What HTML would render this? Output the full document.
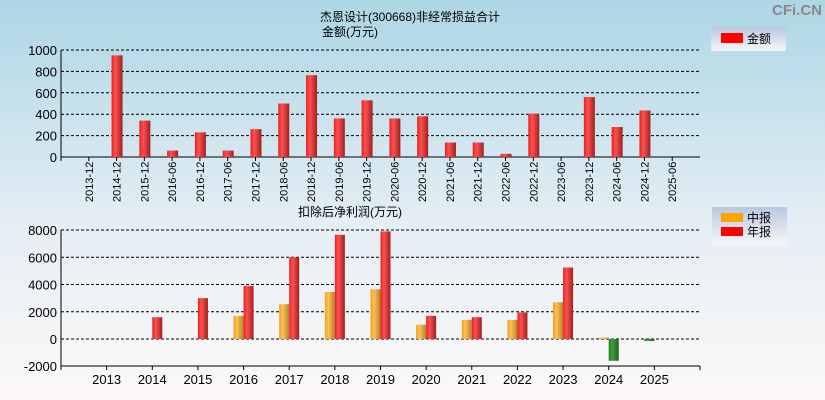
<!DOCTYPE html>
<html><head><meta charset="utf-8"><style>
body{margin:0;width:825px;height:400px;overflow:hidden;font-family:"Liberation Sans","Noto Sans CJK SC",sans-serif}
svg{display:block}
</style></head><body>
<svg id="c" width="825" height="400" xmlns="http://www.w3.org/2000/svg">
<defs>
<linearGradient id="bg" x1="0" y1="0" x2="0" y2="1"><stop offset="0" stop-color="#add6e5"/><stop offset="0.55" stop-color="#e4eef4"/><stop offset="1" stop-color="#fdf8f8"/></linearGradient>
<linearGradient id="lg" x1="0" y1="0" x2="0" y2="1"><stop offset="0" stop-color="#b8c8e0"/><stop offset="1" stop-color="#f6f6fa"/></linearGradient>
<linearGradient id="red" x1="0" x2="1"><stop offset="0" stop-color="#e82020"/><stop offset="0.35" stop-color="#ff5050"/><stop offset="1" stop-color="#a02020"/></linearGradient>
<linearGradient id="org" x1="0" x2="1"><stop offset="0" stop-color="#f0a020"/><stop offset="0.35" stop-color="#ffc050"/><stop offset="1" stop-color="#b08030"/></linearGradient>
<linearGradient id="grn" x1="0" x2="1"><stop offset="0" stop-color="#208020"/><stop offset="0.35" stop-color="#40a040"/><stop offset="1" stop-color="#1a601a"/></linearGradient>
</defs>
<rect width="825" height="400" fill="url(#bg)"/>
<text x="822" y="15" text-anchor="end" font-size="15" font-weight="bold" fill="#888">CFi.CN</text>
<text x="410" y="21" text-anchor="middle" font-size="12">杰恩设计(300668)非经常损益合计</text>
<text x="350" y="36" text-anchor="middle" font-size="12">金额(万元)</text>
<text x="350" y="216" text-anchor="middle" font-size="12">扣除后净利润(万元)</text>
<g><rect x="711" y="27" width="75" height="24" fill="url(#lg)"/><rect x="721" y="33" width="22" height="10" fill="#f00"/><text x="747" y="43" font-size="12">金额</text></g>
<g><rect x="712" y="207" width="75" height="38" fill="url(#lg)"/><rect x="721" y="213" width="22" height="9" fill="#ffa500"/><text x="747" y="222" font-size="12">中报</text><rect x="721" y="227" width="22" height="9" fill="#f00"/><text x="747" y="236" font-size="12">年报</text></g>
<g id="top"></g><g id="bot"></g>
</svg>
<script>
const topCats=["2013-12","2014-12","2015-12","2016-06","2016-12","2017-06","2017-12","2018-06","2018-12","2019-06","2019-12","2020-06","2020-12","2021-06","2021-12","2022-06","2022-12","2023-06","2023-12","2024-06","2024-12","2025-06"];
const topVals=[0,950,340,60,230,60,260,500,765,360,530,360,380,135,135,30,405,0,560,280,435,0];
const topTicks=[0,200,400,600,800,1000];
const years=["2013","2014","2015","2016","2017","2018","2019","2020","2021","2022","2023","2024","2025"];
const halfVals=[null,null,null,1700,2550,3450,3650,1050,1400,1400,2700,100,-150];
const annualVals=[null,1600,3000,3900,6000,7650,7900,1700,1600,1950,5250,-1600,null];
const botTicks=[-2000,0,2000,4000,6000,8000];
const NS="http://www.w3.org/2000/svg";
function mk(p,t,a){const e=document.createElementNS(NS,t);for(const k in a)e.setAttribute(k,a[k]);p.appendChild(e);return e;}
const X0=61,X1=700;
// top
const T=document.getElementById('top');
const ty=v=>157-v*0.107;
const tb=(X1-X0)/(topCats.length+1);
topTicks.forEach(t=>{
 const y=ty(t);
 if(t>0){const l=mk(T,'line',{x1:X0,x2:X1,y1:y,y2:y,stroke:'#000','stroke-dasharray':'3,2'});}
 const tx=mk(T,'text',{x:X0-4,y:y+5,'text-anchor':'end','font-size':'13'});tx.textContent=t;
 
});
let a=mk(T,'line',{x1:X0,x2:X1,y1:157,y2:157,stroke:'#000'});
a=mk(T,'line',{x1:X0,x2:X0,y1:50,y2:161,stroke:'#000'});
topCats.forEach((c,i)=>{
 const cx=X0+(i+1)*tb,v=topVals[i];
 if(v!==0){const r=mk(T,'rect',{x:cx-5,y:Math.min(ty(v),157),width:11,height:Math.abs(157-ty(v)),fill:v<0?'url(#grn)':'url(#red)'});}
 const tk=mk(T,'line',{x1:cx,x2:cx,y1:157,y2:161,stroke:'#000'});
 const tx=mk(T,'text',{x:0,y:0,transform:`translate(${cx+4},202) rotate(-90)`,'font-size':'11'});tx.textContent=c;
 
});
// bottom
const B=document.getElementById('bot');
const by=v=>339-v*0.01362;
const bb=(X1-X0)/(years.length+1);
botTicks.forEach(t=>{
 const y=by(t);
 if(t>-2000){const l=mk(B,'line',{x1:X0,x2:X1,y1:y,y2:y,stroke:'#000','stroke-dasharray':'3,2'});}
 const tx=mk(B,'text',{x:X0-4,y:y+5,'text-anchor':'end','font-size':'13'});tx.textContent=t;
 
});
a=mk(B,'line',{x1:X0,x2:X1,y1:366,y2:366,stroke:'#000'});
a=mk(B,'line',{x1:X0,x2:X0,y1:230,y2:370,stroke:'#000'});
a=mk(B,'line',{x1:X1,x2:X1,y1:366,y2:370,stroke:'#000'});
years.forEach((yr,i)=>{
 const cx=X0+(i+1)*bb;
 const h=halfVals[i],an=annualVals[i];
 if(h!==null){const r=mk(B,'rect',{x:cx-10,y:Math.min(by(h),339),width:10,height:Math.max(1,Math.abs(339-by(h))),fill:h<0?'url(#grn)':'url(#org)'});}
 if(an!==null){const r=mk(B,'rect',{x:cx,y:Math.min(by(an),339),width:10,height:Math.max(1,Math.abs(339-by(an))),fill:an<0?'url(#grn)':'url(#red)'});}
 const tk=mk(B,'line',{x1:cx,x2:cx,y1:366,y2:370,stroke:'#000'});
 const tx=mk(B,'text',{x:cx,y:384,'text-anchor':'middle','font-size':'13'});tx.textContent=yr;
 
});
</script>
</body></html>
